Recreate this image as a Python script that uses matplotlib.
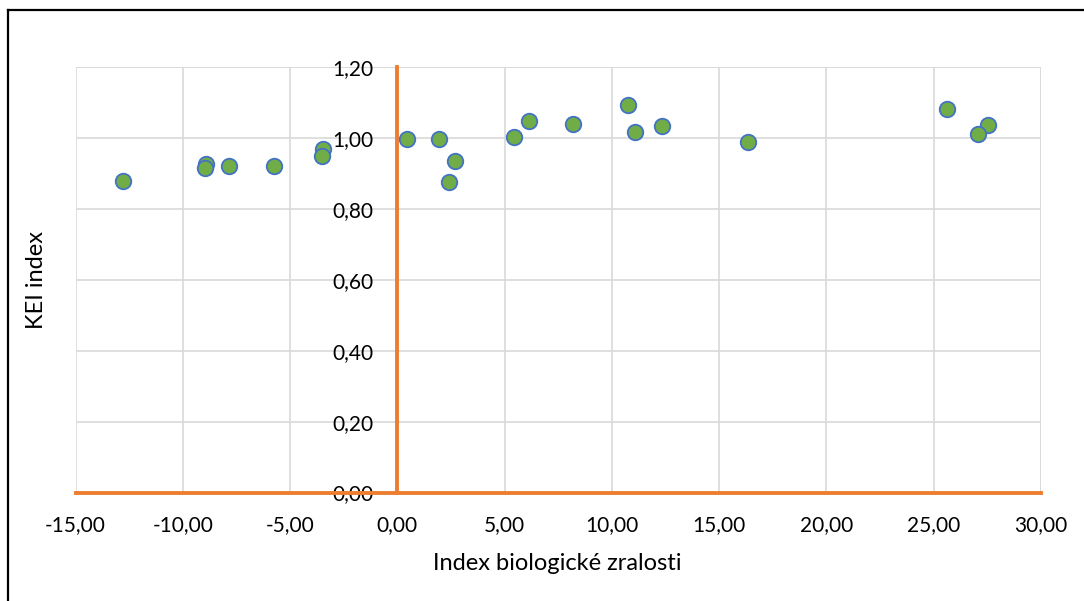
import matplotlib.pyplot as plt
from matplotlib.lines import Line2D
from matplotlib.ticker import FuncFormatter, MultipleLocator

# Index biologické zralosti vs. KEI index
ibz = [-12.78, -8.93, -8.96, -7.87, -5.77, -3.46, -3.50,
       0.43, 1.92, 2.69, 2.41, 5.42, 6.15, 8.19, 10.75, 11.09, 12.34,
       16.36, 25.62, 27.52, 27.07]
kei = [0.879, 0.927, 0.915, 0.923, 0.923, 0.969, 0.951,
       0.997, 0.999, 0.937, 0.876, 1.005, 1.050, 1.040, 1.094, 1.019, 1.035,
       0.990, 1.083, 1.038, 1.011]

plt.rcParams['font.family'] = ['Lato', 'DejaVu Sans']

fig = plt.figure(figsize=(10.84, 6.01), dpi=100)
ax = fig.add_axes([0.0697, 0.1805, 0.8906, 0.7072])

ax.scatter(ibz, kei, s=125, color='#70AD47', edgecolor='#4472C4',
           linewidth=1.3, zorder=3, clip_on=False)

ax.set_xlim(-15, 30)
ax.set_ylim(0, 1.2)
ax.xaxis.set_major_locator(MultipleLocator(5))
ax.yaxis.set_major_locator(MultipleLocator(0.2))
comma = FuncFormatter(lambda v, p: f"{v:.2f}".replace('.', ','))
ax.xaxis.set_major_formatter(comma)
ax.yaxis.set_major_formatter(comma)
ax.grid(True, color='#D9D9D9', linewidth=1.2, zorder=0)
ax.set_axisbelow(True)

ax.spines['top'].set_visible(False)
ax.spines['right'].set_visible(False)
ax.spines['left'].set_position(('data', 0))
ax.spines['left'].set_color('#ED7D31')
ax.spines['left'].set_linewidth(2.8)
ax.spines['bottom'].set_color('#ED7D31')
ax.spines['bottom'].set_linewidth(2.8)
ax.spines['left'].set_zorder(2)
ax.spines['bottom'].set_zorder(2)

ax.tick_params(axis='both', length=0, labelsize=15, colors='black')
ax.tick_params(axis='x', pad=16)
ax.tick_params(axis='y', pad=17)

# top and right grid edges
ax.axhline(1.2, color='#D9D9D9', linewidth=1.2, zorder=0)
ax.axvline(30, color='#D9D9D9', linewidth=1.2, zorder=0)

fig.text(0.514, 0.063, 'Index biologické zralosti', ha='center', va='center', fontsize=17)
fig.text(0.034, 0.534, 'KEI index', ha='center', va='center', rotation=90, fontsize=17)

# chart frame
fig.add_artist(Line2D([8 / 1084, 1.0], [1 - 10 / 601, 1 - 10 / 601],
                      transform=fig.transFigure, color='black', linewidth=1.6))
fig.add_artist(Line2D([8 / 1084, 8 / 1084], [0.0, 1 - 10 / 601],
                      transform=fig.transFigure, color='black', linewidth=1.6))

fig.savefig('out.png', dpi=100)
